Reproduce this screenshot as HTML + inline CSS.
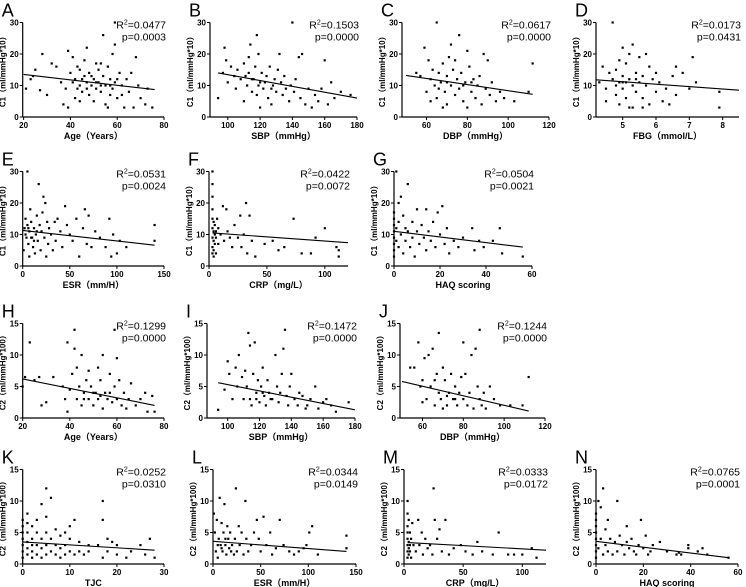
<!DOCTYPE html>
<html><head><meta charset="utf-8">
<style>
html,body{margin:0;padding:0;background:#fff;}
svg{display:block;font-family:"Liberation Sans","Noto Sans CJK SC",sans-serif;}
</style></head>
<body>
<svg id="fig" width="746" height="587" viewBox="0 0 746 587"></svg>
<script>
// ---- data ----
const ptsA=[[21,9],[23,12],[24,13],[25,15],[27,8.5],[28,20],[30,7],[32,17],[34,16],[36,11],[37,4],[38,9],[39,21],[39,3],[40,14],[41,19],[42,12],[42,6],[43,16],[44,10],[44,15],[45,8],[46,13],[46,18],[47,11],[48,7],[48,14],[49,10],[50,12],[50,5],[51,9],[52,15],[52,11],[53,8],[54,26],[54,13],[55,10],[55,4],[56,16],[57,12],[57,7],[58,20],[58,9],[59,30],[59,23],[59,11],[60,6],[61,14],[62,10],[63,3],[64,12],[65,8],[66,14],[67,3],[68,19],[69,10],[70,6],[72,4],[73,9],[75,3],[47,22],[51,17],[44,5],[53,17],[56,3],[41,11],[45,12],[49,13],[53,10],[57,10],[43,9],[47,9],[51,11],[60,12],[62,7]];
const ptsB=[[94,6],[97,14],[98,22],[99,18],[100,11],[102,16],[104,13],[105,9],[106,15],[108,12],[110,17],[110,5],[112,10],[113,14],[114,23],[115,8],[116,12],[117,16],[118,26],[118,7],[119,20],[120,11],[120,3],[121,14],[122,9],[124,13],[125,6],[126,16],[128,10],[129,12],[130,8],[131,15],[132,20],[133,11],[134,7],[135,13],[136,9],[138,5],[139,10],[140,30],[141,8],[142,12],[144,19],[145,6],[146,20],[148,4],[150,9],[152,3],[154,7],[156,5],[158,9],[160,18],[162,4],[164,11],[166,6],[170,8],[176,7],[127,4],[113,19],[115,12],[119,10],[123,11],[127,9],[111,13]];
const ptsC=[[55,14],[57,13],[59,22],[60,8],[61,18],[62,12],[63,15],[64,10],[65,30],[65,6],[66,14],[67,11],[68,17],[69,8],[70,13],[70,4],[71,19],[72,23],[72,10],[73,15],[74,7],[75,12],[76,26],[76,9],[77,14],[78,5],[79,11],[80,21],[80,3],[81,16],[82,8],[83,12],[84,6],[85,10],[86,13],[87,4],[88,20],[89,9],[90,18],[91,7],[92,11],[94,5],[96,8],[98,6],[103,5],[110,8],[112,17],[62,5],[68,3],[74,18],[66,9],[70,11],[78,10],[82,11]];
const ptsD=[[4.3,11],[4.4,16],[4.5,9],[4.6,14],[4.7,30],[4.7,12],[4.8,7],[4.8,15],[4.9,11],[4.9,4],[5.0,13],[5.0,9],[5.0,22],[5.1,17],[5.1,6],[5.2,12],[5.2,20],[5.3,10],[5.3,23],[5.3,3],[5.4,14],[5.4,8],[5.5,11],[5.5,19],[5.6,6],[5.6,13],[5.7,20],[5.7,10],[5.8,16],[5.8,4],[5.9,12],[6.0,8],[6.0,14],[6.1,11],[6.2,5],[6.3,9],[6.4,4],[6.5,13],[6.6,7],[6.6,16],[6.8,14],[7.0,9],[7.1,19],[7.2,11],[7.9,8],[7.9,3],[4.5,5],[4.9,18],[5.2,3],[5.6,3],[4.8,10],[5.1,11],[5.4,12],[5.0,11]];
const ptsE=[[1,5],[2,12],[3,15],[4,9],[5,30],[5,13],[6,7],[7,11],[7,3],[8,18],[9,14],[10,9],[11,6],[12,12],[13,4],[14,10],[15,16],[16,8],[17,26],[18,13],[19,5],[20,11],[21,17],[22,22],[23,9],[24,20],[25,3],[26,14],[27,7],[28,12],[30,10],[32,5],[34,14],[35,8],[37,15],[40,11],[42,6],[45,19],[47,13],[50,10],[53,8],[57,15],[60,3],[64,12],[66,18],[68,7],[70,16],[73,6],[77,11],[82,9],[88,6],[92,15],[94,3],[96,10],[100,4],[103,8],[110,6],[140,13],[140,8],[3,10],[6,12],[9,9],[12,8],[15,11]];
const ptsF=[[3,30],[3,26],[3,22],[3,18],[3,15],[3,12],[3,9],[3,6],[3,4],[4,14],[4,11],[4,8],[4,5],[4,3],[5,13],[5,10],[5,7],[6,11],[6,9],[6,4],[7,15],[8,12],[8,7],[10,10],[12,19],[13,8],[15,18],[16,11],[18,9],[20,6],[22,13],[25,9],[27,16],[28,6],[30,10],[32,20],[33,4],[35,16],[37,8],[40,3],[48,7],[55,8],[60,5],[65,6],[73,15],[80,4],[88,4],[92,9],[100,12],[110,6],[112,3],[112,5]];
const ptsG=[[0,3],[0,5],[0,7],[0,9],[0,11],[0,13],[0,15],[0,17],[1,30],[1,12],[1,8],[2,20],[2,14],[2,6],[3,22],[3,10],[4,4],[4,16],[5,12],[5,8],[6,26],[6,11],[7,6],[8,14],[8,9],[9,3],[10,18],[10,11],[11,7],[12,13],[13,9],[14,18],[14,5],[15,11],[16,8],[17,14],[18,6],[19,17],[20,10],[21,19],[22,7],[23,12],[24,4],[26,8],[28,6],[30,9],[34,12],[35,5],[37,8],[39,6],[43,8],[46,12],[47,4],[56,3]];
const ptsH=[[20,5],[21,6.5],[23,12],[25,6],[27,6.5],[28,2],[30,2.5],[33,6.5],[37,5],[38,3],[39,12],[39,1],[40,4.5],[41,7],[42,14],[42,11],[43,3],[43,8],[44,5],[45,10],[45,2],[46,4],[47,6],[48,3],[48,7.5],[49,5],[50,2],[51,4],[52,8],[52,3],[53,6],[54,10],[54,1.5],[55,4],[56,3],[57,7],[58,2.5],[59,14],[59,5],[60,9.5],[60,3],[61,6],[62,2],[63,4],[64,1.5],[65,3],[66,5.5],[68,2],[70,3],[72,4],[73,1],[75,3.5],[76,1],[46,3],[50,4],[53,3.5],[57,4]];
const ptsI=[[94,1.3],[98,4.5],[100,9],[101,7],[103,3],[105,8],[106,5],[107,10],[109,6.5],[110,3],[111,7.5],[112,5],[113,13.5],[114,11.5],[114,3],[115,2],[116,7],[117,12],[118,4],[119,6],[120,2.5],[121,5],[122,8],[123,3.5],[124,2],[125,6],[126,4],[128,3],[130,10],[131,5],[132,2.5],[133,4],[134,7],[135,11],[136,14],[137,3.5],[138,2],[139,5],[140,7],[142,3],[144,2],[145,4],[147,3.5],[149,1.5],[150,2],[152,3],[155,5],[157,1.5],[160,2.5],[162,3],[165,2],[168,1],[176,2.5],[118,3],[122,4],[127,3]];
const ptsJ=[[54,8],[56,8],[58,12],[59,5],[60,6],[61,9.5],[62,3],[63,10],[64,5],[65,11],[66,2],[67,7],[68,13.5],[68,4],[69,3],[70,8],[71,6],[72,2],[73,4],[74,7],[75,3],[76,5],[77,2],[78,4],[79,6.5],[80,12],[80,3],[81,7],[82,2],[83,4],[84,10],[85,1.5],[86,11],[87,5],[88,14],[88,3],[89,2],[90,4],[91,1.5],[93,5],[95,3],[98,2],[103,2],[109,2],[112,6.5],[60,2.5],[66,6],[70,1.5],[72,3.5],[76,3]];
const ptsK=[[0,1],[0,2],[0,3],[0,4],[0,5],[0,6],[0,7],[1,1.5],[1,2.5],[1,3.5],[1,5],[1,6.5],[1,8],[2,1],[2,2],[2,3],[2,4],[2,6],[3,1.5],[3,3],[3,5],[3,7],[4,1],[4,2.5],[4,4],[4,9.5],[5,1.5],[5,3],[5,5],[5,7.5],[5,12],[6,2],[6,4],[6,10.5],[7,1.5],[7,3],[7,5.5],[8,1],[8,2.5],[8,4.5],[9,1.5],[9,3],[9,5],[10,2],[10,4],[10,6],[11,1.5],[11,7],[12,2],[12,3.5],[13,1.5],[14,2],[14,3],[16,3],[17,1],[17,7],[17,10],[18,2],[18,4],[19,3.5],[20,1.5],[20,3],[22,1],[23,2],[25,3],[26,1.5],[27,4],[28,1]];
const ptsL=[[1,8],[2,5],[3,2],[4,7],[5,1],[6,4],[7,10.5],[8,3],[9,6.5],[10,2],[11,5],[12,9.5],[13,3],[14,1.5],[15,6],[16,4],[17,2.5],[18,5],[20,3],[22,1.5],[23,4],[24,12],[25,2],[27,6],[28,3],[30,5],[32,1.5],[34,10],[35,4],[37,2],[40,3],[43,5],[46,7],[48,4],[50,2],[53,7.5],[56,3],[60,5],[62,1.5],[66,2.5],[70,7],[74,3],[80,2],[85,1.5],[90,2],[95,2.5],[98,3],[101,5],[104,6],[110,1.5],[140,4.5],[140,2.5],[5,3],[9,2.5],[13,4],[19,2]];
const ptsM=[[3,1],[3,2],[3,3],[3,4],[3,5],[3,6],[3,8],[3,10],[4,1.5],[4,2.5],[4,3.5],[4,7],[5,2],[5,3],[5,5],[6,1],[6,4],[7,6.5],[8,3],[10,2],[12,7],[13,3],[15,5],[16,1.5],[18,4],[20,2.5],[22,3],[24,1.5],[25,12],[26,7],[28,4],[30,5.5],[32,2],[35,7],[38,1.5],[42,2.5],[48,3],[52,2],[58,1.5],[62,3.5],[66,2],[75,1.5],[80,5],[88,1.5],[93,1.5],[100,1.5],[108,2.5],[112,1]];
const ptsN=[[0,1],[0,2],[0,3],[0,4],[0,5],[0,6],[0,7],[0,8],[1,10],[1,2.5],[2,9],[2,4],[3,12],[3,1.5],[4,5.5],[4,3],[5,7],[5,2],[6,4],[7,1.5],[8,3.5],[9,10],[9,2],[10,4.5],[11,3],[12,1.5],[13,6],[13,3.5],[14,2.5],[15,4],[16,2],[17,1.5],[18,3],[19,7],[20,2.5],[21,4.5],[22,1.5],[23,2],[24,3],[27,3.5],[30,2],[34,1.5],[35,1.8],[36,1.5],[39,3],[39,2.5],[43,2],[45,2.5],[47,1.5],[56,1]];
// regression fit endpoints [x1,y1,x2,y2]
const fitA=[20,13.5,76,8.7], fitB=[94,14,180,6], fitC=[50,13.2,112,7.2], fitD=[4.2,11.8,8.49,8.5];
const fitE=[0,11.3,140,6.6], fitF=[3,10.5,120,7.4], fitG=[0,11,56,6];
const fitH=[20,6.2,76,2], fitI=[94,5.6,180,1.3], fitJ=[50,5.8,112,1.1];
const fitK=[0,3.5,28,2.2], fitL=[0,3.6,140,2], fitM=[3,3.4,120,2.2], fitN=[0,3.6,56,1];
const r2Values=["0.0477","0.1503","0.0617","0.0173","0.0531","0.0422","0.0504","0.1299","0.1472","0.1244","0.0252","0.0344","0.0333","0.0765"];
const pValues=["0.0003","0.0000","0.0000","0.0431","0.0024","0.0072","0.0021","0.0000","0.0000","0.0000","0.0310","0.0149","0.0172","0.0001"];
const ticksAge=[20,40,60,80], ticksSBP=[100,120,140,160,180], ticksDBP=[60,80,100,120], ticksFBG=[5,6,7,8];
const ticksESR=[0,50,100,150], ticksCRP=[0,50,100], ticksHAQ=[0,20,40,60], ticksTJC=[0,10,20,30];
const ticksC1=[0,10,20,30], ticksC2=[0,5,10,15];

// ---- layout ----
const C1L="C1（ml/mmHg*10）", C2L="C2（ml/mmHg*100）";
const panels=[
 {k:"A",pts:ptsA,fit:fitA,px:[22.7,164],dom:[19.6,80],xt:ticksAge,y0:117,xl:"Age（Years）",yl:C1L,yt:ticksC1},
 {k:"B",pts:ptsB,fit:fitB,px:[210,357],dom:[89,180],xt:ticksSBP,y0:117,xl:"SBP（mmHg）",yl:C1L,yt:ticksC1},
 {k:"C",pts:ptsC,fit:fitC,px:[402,549],dom:[48,120],xt:ticksDBP,y0:117,xl:"DBP（mmHg）",yl:C1L,yt:ticksC1},
 {k:"D",pts:ptsD,fit:fitD,px:[596,739],dom:[4.2,8.49],xt:ticksFBG,y0:117,xl:"FBG（mmol/L）",yl:C1L,yt:ticksC1},
 {k:"E",pts:ptsE,fit:fitE,px:[22.7,164],dom:[0,150],xt:ticksESR,y0:266,xl:"ESR（mm/H）",yl:C1L,yt:ticksC1},
 {k:"F",pts:ptsF,fit:fitF,px:[209,348],dom:[0,120],xt:ticksCRP,y0:266,xl:"CRP（mg/L）",yl:C1L,yt:ticksC1},
 {k:"G",pts:ptsG,fit:fitG,px:[394,532],dom:[0,60],xt:ticksHAQ,y0:266,xl:"HAQ scoring",yl:C1L,yt:ticksC1},
 {k:"H",pts:ptsH,fit:fitH,px:[22.7,164],dom:[20,80],xt:ticksAge,y0:418,xl:"Age（Years）",yl:C2L,yt:ticksC2},
 {k:"I",pts:ptsI,fit:fitI,px:[207,355],dom:[87,180],xt:ticksSBP,y0:418,xl:"SBP（mmHg）",yl:C2L,yt:ticksC2},
 {k:"J",pts:ptsJ,fit:fitJ,px:[400,545],dom:[49,120],xt:ticksDBP,y0:418,xl:"DBP（mmHg）",yl:C2L,yt:ticksC2},
 {k:"K",pts:ptsK,fit:fitK,px:[22.7,164],dom:[0,30],xt:ticksTJC,y0:564,xl:"TJC",yl:C2L,yt:ticksC2},
 {k:"L",pts:ptsL,fit:fitL,px:[213,356],dom:[0,150],xt:ticksESR,y0:564,xl:"ESR（mm/H）",yl:C2L,yt:ticksC2},
 {k:"M",pts:ptsM,fit:fitM,px:[404,546],dom:[0,120],xt:ticksCRP,y0:564,xl:"CRP（mg/L）",yl:C2L,yt:ticksC2},
 {k:"N",pts:ptsN,fit:fitN,px:[596,738],dom:[0,60],xt:ticksHAQ,y0:564,xl:"HAQ scoring",yl:C2L,yt:ticksC2}
];
const NS="http://www.w3.org/2000/svg";
const svg=document.getElementById("fig");
function mk(tag,attrs,parent,txt){const e=document.createElementNS(NS,tag);for(const a in attrs)e.setAttribute(a,attrs[a]);if(txt!==undefined)e.textContent=txt;parent.appendChild(e);return e;}
const H=94.5;
panels.forEach((P,i)=>{
  const g=mk("g",{},svg);
  
  
  const ymax=P.yt[P.yt.length-1];
  const sx=v=>P.px[0]+(v-P.dom[0])/(P.dom[1]-P.dom[0])*(P.px[1]-P.px[0]);
  const sy=v=>P.y0-v/ymax*H;
  const ax=P.px[0], top=P.y0-H;
  const lt=mk("text",{x:ax-21,y:top-6,"font-size":"18"},g,P.k);
  
  
  const ya=mk("line",{x1:ax,y1:top,x2:ax,y2:P.y0,stroke:"#000","stroke-width":"1.2"},g);
  
  
  const xa=mk("line",{x1:ax,y1:P.y0,x2:P.px[1],y2:P.y0,stroke:"#000","stroke-width":"1.2"},g);
  
  
  P.yt.forEach(t=>{
    mk("line",{x1:ax-3,y1:sy(t),x2:ax,y2:sy(t),stroke:"#000","stroke-width":"1"},g);
    const tl=mk("text",{x:ax-4,y:sy(t)+3,"font-size":"8","font-weight":"bold","text-anchor":"end"},g,t);
    
    
  });
  P.xt.forEach(t=>{
    mk("line",{x1:sx(t),y1:P.y0,x2:sx(t),y2:P.y0+3,stroke:"#000","stroke-width":"1"},g);
    const tl=mk("text",{x:sx(t),y:P.y0+11,"font-size":"8","font-weight":"bold","text-anchor":"middle"},g,t);
    
    
  });
  const xl=mk("text",{x:(ax+P.px[1])/2,y:P.y0+22,"font-size":"9","font-weight":"bold","text-anchor":"middle"},g,P.xl);
  
  
  const yx=ax-17, yy=P.y0-H/2;
  const yl=mk("text",{x:yx,y:yy,"font-size":"8","font-weight":"bold","text-anchor":"middle",transform:`rotate(-90 ${yx} ${yy})`},g,P.yl);
  
  
  P.pts.forEach(p=>{
    const r=mk("rect",{x:sx(p[0])-1.1,y:sy(p[1])-1.1,width:2.2,height:2.2,fill:"#000"},g);
    
    
  });
  const f=P.fit;
  const fl=mk("line",{x1:sx(f[0]),y1:sy(f[1]),x2:sx(f[2]),y2:sy(f[3]),stroke:"#000","stroke-width":"1.1"},g);
  
  
  const rt=mk("text",{x:P.px[1]+2,y:top+6,"font-size":"10.5","text-anchor":"end"},g);
  
  
  mk("tspan",{},rt,"R");
  mk("tspan",{dy:"-4","font-size":"7"},rt,"2");
  mk("tspan",{dy:"4"},rt,"="+r2Values[i]);
  const pt=mk("text",{x:P.px[1]+2,y:top+18,"font-size":"10.5","text-anchor":"end"},g,"p="+pValues[i]);
  
  
});
</script>
</body></html>
